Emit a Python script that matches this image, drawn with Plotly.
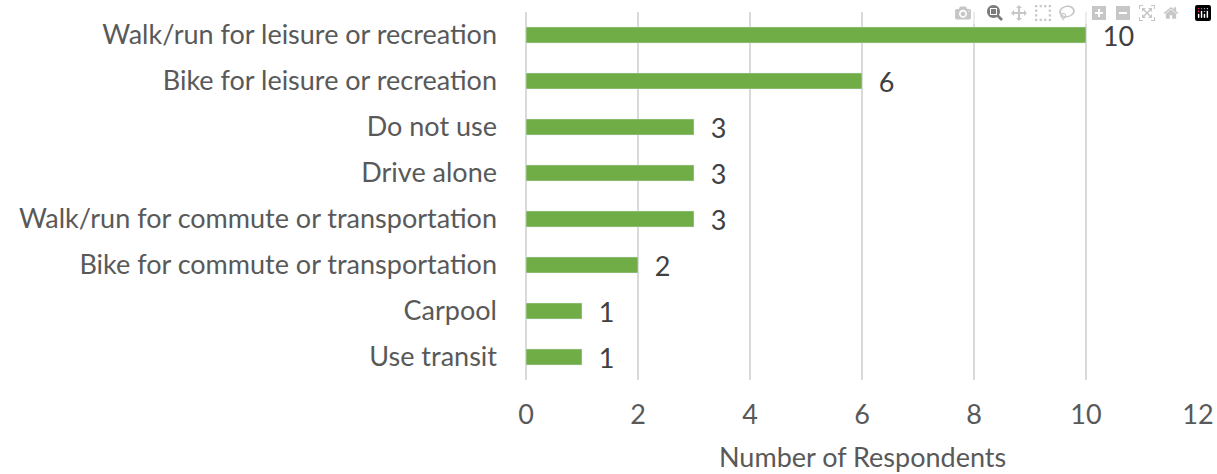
import plotly.graph_objects as go

categories = [
    "Walk/run for leisure or recreation",
    "Bike for leisure or recreation",
    "Do not use",
    "Drive alone",
    "Walk/run for commute or transportation",
    "Bike for commute or transportation",
    "Carpool",
    "Use transit",
]
respondents = [10, 6, 3, 3, 3, 2, 1, 1]
x_ticks = [0, 2, 4, 6, 8, 10, 12]

font = "Lato, 'Open Sans', sans-serif"
text_grey = "#595959"

fig = go.Figure(go.Bar(
    x=respondents,
    y=categories,
    orientation="h",
    marker=dict(color="#70AD47"),
    width=0.35,
    text=[f"  {v}" for v in respondents],
    textposition="outside",
    constraintext="none",
    textfont=dict(size=27, color="#404040", family=font),
    cliponaxis=False,
))

fig.update_layout(
    width=1217, height=474,
    margin=dict(l=526, r=19, t=12, b=94),
    plot_bgcolor="white", paper_bgcolor="white",
    showlegend=False,
    font=dict(family=font, color=text_grey, size=27),
    xaxis=dict(
        range=[0, 12], tickvals=x_ticks, automargin=False,
        showgrid=True, gridcolor="#D9D9D9", gridwidth=1.5,
        zeroline=True, zerolinecolor="#D9D9D9", zerolinewidth=2,
        ticks="", ticklabelstandoff=16, ticklabeloverflow="allow",
    ),
    yaxis=dict(
        autorange="reversed", showgrid=False, ticks="", automargin=False,
        ticklabelstandoff=28,
    ),
)

# axis title placed as an annotation so its distance below the axis is exact
fig.add_annotation(
    text="Number of Respondents", xref="paper", yref="paper",
    x=0.5, y=0, xanchor="center", yanchor="middle", yshift=-76,
    showarrow=False, font=dict(size=27, color=text_grey),
)

# drop the default 8px body margin so the figure fills the window exactly
fig.write_html(
    "out.html",
    post_script="document.body.style.margin='0'; document.body.style.overflow='hidden';",
)
